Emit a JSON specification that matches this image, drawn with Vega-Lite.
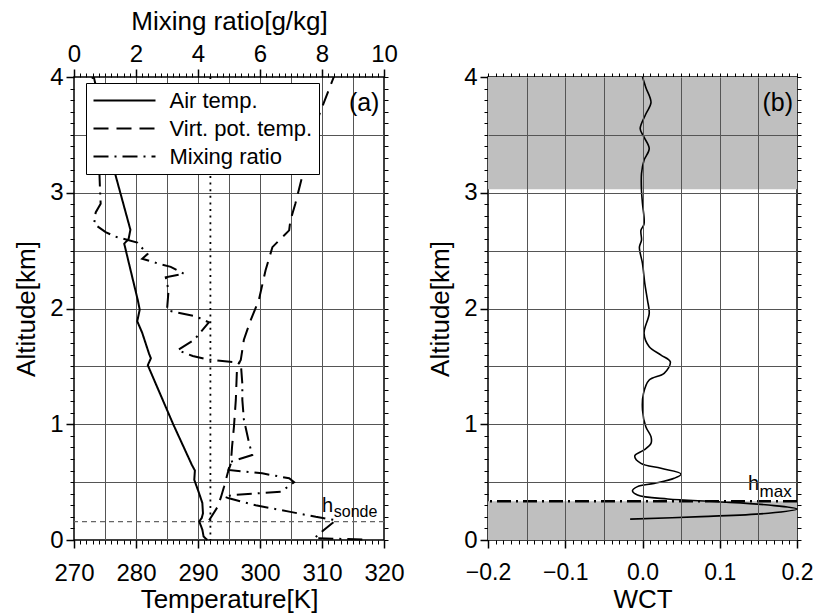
{
"$schema": "https://vega.github.io/schema/vega-lite/v6.json",
"background": "white",
"padding": {"left": 12, "top": 7, "right": 5, "bottom": 0},
"bounds": "flush",
"spacing": 104,
"config": {
  "view": {"stroke": "black", "strokeWidth": 1.5},
  "font": "Liberation Sans",
  "axis": {"labelFont": "Liberation Sans", "labelFontSize": 24, "labelColor": "black", "titleFont": "Liberation Sans", "titleFontSize": 26, "titleFontWeight": "normal", "titleColor": "black", "tickColor": "black", "domain": false, "grid": false, "gridColor": "#555555", "gridWidth": 1, "tickWidth": 1, "labelPadding": 3, "labelOverlap": false, "labelFlush": false}
},
"datasets": {
  "temp": [
    {"series": "Air temp.", "i": 0, "h": 0.0, "T": 291.5},
    {"series": "Air temp.", "i": 1, "h": 0.03, "T": 290.9},
    {"series": "Air temp.", "i": 2, "h": 0.09, "T": 290.7},
    {"series": "Air temp.", "i": 3, "h": 0.16, "T": 290.2},
    {"series": "Air temp.", "i": 4, "h": 0.19, "T": 290.6},
    {"series": "Air temp.", "i": 5, "h": 0.23, "T": 290.8},
    {"series": "Air temp.", "i": 6, "h": 0.32, "T": 290.7},
    {"series": "Air temp.", "i": 7, "h": 0.40, "T": 290.2},
    {"series": "Air temp.", "i": 8, "h": 0.52, "T": 289.4},
    {"series": "Air temp.", "i": 9, "h": 0.60, "T": 289.5},
    {"series": "Air temp.", "i": 10, "h": 0.65, "T": 289.0},
    {"series": "Air temp.", "i": 11, "h": 1.00, "T": 286.0},
    {"series": "Air temp.", "i": 12, "h": 1.51, "T": 281.9},
    {"series": "Air temp.", "i": 13, "h": 1.57, "T": 282.4},
    {"series": "Air temp.", "i": 14, "h": 1.61, "T": 282.1},
    {"series": "Air temp.", "i": 15, "h": 1.79, "T": 281.0},
    {"series": "Air temp.", "i": 16, "h": 1.89, "T": 280.2},
    {"series": "Air temp.", "i": 17, "h": 1.99, "T": 280.6},
    {"series": "Air temp.", "i": 18, "h": 2.07, "T": 280.3},
    {"series": "Air temp.", "i": 19, "h": 2.27, "T": 279.4},
    {"series": "Air temp.", "i": 20, "h": 2.56, "T": 278.1},
    {"series": "Air temp.", "i": 21, "h": 2.60, "T": 278.8},
    {"series": "Air temp.", "i": 22, "h": 2.68, "T": 279.1},
    {"series": "Air temp.", "i": 23, "h": 3.19, "T": 276.5},
    {"series": "Air temp.", "i": 24, "h": 4.0, "T": 273.2},
    {"series": "Virt. pot. temp.", "i": 0, "h": 0.17, "T": 291.8},
    {"series": "Virt. pot. temp.", "i": 1, "h": 0.29, "T": 293.2},
    {"series": "Virt. pot. temp.", "i": 2, "h": 0.37, "T": 293.7},
    {"series": "Virt. pot. temp.", "i": 3, "h": 0.46, "T": 294.2},
    {"series": "Virt. pot. temp.", "i": 4, "h": 0.58, "T": 294.8},
    {"series": "Virt. pot. temp.", "i": 5, "h": 0.66, "T": 295.3},
    {"series": "Virt. pot. temp.", "i": 6, "h": 0.81, "T": 295.5},
    {"series": "Virt. pot. temp.", "i": 7, "h": 0.98, "T": 295.8},
    {"series": "Virt. pot. temp.", "i": 8, "h": 1.21, "T": 296.1},
    {"series": "Virt. pot. temp.", "i": 9, "h": 1.50, "T": 296.3},
    {"series": "Virt. pot. temp.", "i": 10, "h": 1.555, "T": 296.9},
    {"series": "Virt. pot. temp.", "i": 11, "h": 1.73, "T": 297.4},
    {"series": "Virt. pot. temp.", "i": 12, "h": 1.90, "T": 298.5},
    {"series": "Virt. pot. temp.", "i": 13, "h": 2.07, "T": 299.8},
    {"series": "Virt. pot. temp.", "i": 14, "h": 2.33, "T": 300.9},
    {"series": "Virt. pot. temp.", "i": 15, "h": 2.53, "T": 302.0},
    {"series": "Virt. pot. temp.", "i": 16, "h": 2.59, "T": 303.1},
    {"series": "Virt. pot. temp.", "i": 17, "h": 2.675, "T": 304.7},
    {"series": "Virt. pot. temp.", "i": 18, "h": 2.76, "T": 304.9},
    {"series": "Virt. pot. temp.", "i": 19, "h": 2.905, "T": 305.7},
    {"series": "Virt. pot. temp.", "i": 20, "h": 3.14, "T": 306.8},
    {"series": "Virt. pot. temp.", "i": 21, "h": 3.34, "T": 307.6},
    {"series": "Virt. pot. temp.", "i": 22, "h": 3.54, "T": 308.7},
    {"series": "Virt. pot. temp.", "i": 23, "h": 3.71, "T": 309.8},
    {"series": "Virt. pot. temp.", "i": 24, "h": 4.0, "T": 311.9}
  ],
  "mix": [
    {"series": "Mixing ratio", "i": 0, "h": 0.005, "m": 9.3},
    {"series": "Mixing ratio", "i": 1, "h": 0.015, "m": 7.75},
    {"series": "Mixing ratio", "i": 2, "h": 0.086, "m": 8.06},
    {"series": "Mixing ratio", "i": 3, "h": 0.17, "m": 8.45},
    {"series": "Mixing ratio", "i": 4, "h": 0.20, "m": 7.8},
    {"series": "Mixing ratio", "i": 5, "h": 0.245, "m": 6.94},
    {"series": "Mixing ratio", "i": 6, "h": 0.30, "m": 5.86},
    {"series": "Mixing ratio", "i": 7, "h": 0.36, "m": 5.0},
    {"series": "Mixing ratio", "i": 8, "h": 0.374, "m": 4.85},
    {"series": "Mixing ratio", "i": 9, "h": 0.39, "m": 5.17},
    {"series": "Mixing ratio", "i": 10, "h": 0.417, "m": 6.68},
    {"series": "Mixing ratio", "i": 11, "h": 0.50, "m": 7.1},
    {"series": "Mixing ratio", "i": 12, "h": 0.533, "m": 6.94},
    {"series": "Mixing ratio", "i": 13, "h": 0.576, "m": 6.07},
    {"series": "Mixing ratio", "i": 14, "h": 0.605, "m": 4.98},
    {"series": "Mixing ratio", "i": 15, "h": 0.676, "m": 5.06},
    {"series": "Mixing ratio", "i": 16, "h": 0.734, "m": 5.75},
    {"series": "Mixing ratio", "i": 17, "h": 0.835, "m": 5.65},
    {"series": "Mixing ratio", "i": 18, "h": 1.04, "m": 5.48},
    {"series": "Mixing ratio", "i": 19, "h": 1.21, "m": 5.43},
    {"series": "Mixing ratio", "i": 20, "h": 1.35, "m": 5.43},
    {"series": "Mixing ratio", "i": 21, "h": 1.53, "m": 5.38},
    {"series": "Mixing ratio", "i": 22, "h": 1.56, "m": 4.3},
    {"series": "Mixing ratio", "i": 23, "h": 1.59, "m": 3.83},
    {"series": "Mixing ratio", "i": 24, "h": 1.64, "m": 3.34},
    {"series": "Mixing ratio", "i": 25, "h": 1.73, "m": 3.88},
    {"series": "Mixing ratio", "i": 26, "h": 1.88, "m": 4.35},
    {"series": "Mixing ratio", "i": 27, "h": 1.93, "m": 3.95},
    {"series": "Mixing ratio", "i": 28, "h": 1.985, "m": 3.0},
    {"series": "Mixing ratio", "i": 29, "h": 2.157, "m": 3.05},
    {"series": "Mixing ratio", "i": 30, "h": 2.27, "m": 2.96},
    {"series": "Mixing ratio", "i": 31, "h": 2.30, "m": 3.55},
    {"series": "Mixing ratio", "i": 32, "h": 2.36, "m": 3.12},
    {"series": "Mixing ratio", "i": 33, "h": 2.39, "m": 2.69},
    {"series": "Mixing ratio", "i": 34, "h": 2.43, "m": 2.2},
    {"series": "Mixing ratio", "i": 35, "h": 2.47, "m": 2.37},
    {"series": "Mixing ratio", "i": 36, "h": 2.57, "m": 2.04},
    {"series": "Mixing ratio", "i": 37, "h": 2.62, "m": 1.34},
    {"series": "Mixing ratio", "i": 38, "h": 2.66, "m": 1.02},
    {"series": "Mixing ratio", "i": 39, "h": 2.73, "m": 0.65},
    {"series": "Mixing ratio", "i": 40, "h": 2.83, "m": 0.70},
    {"series": "Mixing ratio", "i": 41, "h": 2.905, "m": 0.86},
    {"series": "Mixing ratio", "i": 42, "h": 3.02, "m": 0.84},
    {"series": "Mixing ratio", "i": 43, "h": 3.17, "m": 0.82},
    {"series": "Mixing ratio", "i": 44, "h": 3.6, "m": 0.75},
    {"series": "Mixing ratio", "i": 45, "h": 4.0, "m": 0.6}
  ],
  "wct": [
    {"i": 0, "h": 0.18, "w": -0.016},
    {"i": 1, "h": 0.202, "w": 0.076},
    {"i": 2, "h": 0.231, "w": 0.163},
    {"i": 3, "h": 0.268, "w": 0.2},
    {"i": 4, "h": 0.302, "w": 0.163},
    {"i": 5, "h": 0.331, "w": 0.098},
    {"i": 6, "h": 0.354, "w": 0.0326},
    {"i": 7, "h": 0.389, "w": -0.0065},
    {"i": 8, "h": 0.426, "w": -0.013},
    {"i": 9, "h": 0.461, "w": -0.0065},
    {"i": 10, "h": 0.489, "w": 0.015},
    {"i": 11, "h": 0.533, "w": 0.041},
    {"i": 12, "h": 0.570, "w": 0.05},
    {"i": 13, "h": 0.619, "w": 0.024},
    {"i": 14, "h": 0.662, "w": -0.002},
    {"i": 15, "h": 0.726, "w": -0.010},
    {"i": 16, "h": 0.778, "w": 0.002},
    {"i": 17, "h": 0.835, "w": 0.011},
    {"i": 18, "h": 0.893, "w": 0.011},
    {"i": 19, "h": 0.979, "w": 0.0043},
    {"i": 20, "h": 1.123, "w": 0.0},
    {"i": 21, "h": 1.267, "w": 0.0013},
    {"i": 22, "h": 1.382, "w": 0.0087},
    {"i": 23, "h": 1.44, "w": 0.028},
    {"i": 24, "h": 1.54, "w": 0.036},
    {"i": 25, "h": 1.598, "w": 0.024},
    {"i": 26, "h": 1.67, "w": 0.0087},
    {"i": 27, "h": 1.785, "w": 0.002},
    {"i": 28, "h": 1.958, "w": 0.0087},
    {"i": 29, "h": 2.07, "w": 0.0065},
    {"i": 30, "h": 2.215, "w": 0.003},
    {"i": 31, "h": 2.388, "w": 0.0},
    {"i": 32, "h": 2.53, "w": -0.004},
    {"i": 33, "h": 2.59, "w": -0.0013},
    {"i": 34, "h": 2.676, "w": -0.002},
    {"i": 35, "h": 2.73, "w": 0.002},
    {"i": 36, "h": 2.905, "w": 0.0},
    {"i": 37, "h": 3.02, "w": -0.0013},
    {"i": 38, "h": 3.165, "w": -0.0013},
    {"i": 39, "h": 3.28, "w": 0.002},
    {"i": 40, "h": 3.38, "w": 0.0087},
    {"i": 41, "h": 3.48, "w": 0.002},
    {"i": 42, "h": 3.553, "w": -0.003},
    {"i": 43, "h": 3.68, "w": 0.0043},
    {"i": 44, "h": 3.78, "w": 0.011},
    {"i": 45, "h": 3.91, "w": 0.0043},
    {"i": 46, "h": 4.0, "w": 0.0}
  ],
  "bands": [
    {"y1": 0, "y2": 0.335},
    {"y1": 3.03, "y2": 4}
  ]
},
"resolve": {"scale": {"strokeDash": "independent"}, "legend": {"strokeDash": "independent"}},
"hconcat": [
  {
    "width": 310,
    "height": 463,
    "resolve": {"scale": {"x": "independent"}, "axis": {"x": "independent", "y": "independent"}},
    "layer": [
      {
        "data": {"values": [{}]},
        "mark": {"type": "rule", "strokeDash": [2, 4.6], "strokeWidth": 1.8, "color": "black"},
        "encoding": {
          "x": {"datum": 292, "type": "quantitative", "scale": {"domain": [270, 320], "nice": false, "zero": false},
                "axis": {"orient": "bottom", "values": [275, 280, 285, 290, 295, 300, 305, 310, 315], "grid": true, "labels": false, "ticks": false, "title": null}}
        }
      },
      {
        "data": {"values": [{}]},
        "mark": {"type": "rule", "strokeDash": [5, 4], "strokeWidth": 1.2, "color": "#666666"},
        "encoding": {
          "y": {"datum": 0.158, "type": "quantitative", "scale": {"domain": [0, 4], "nice": false, "zero": false},
                "axis": {"orient": "left", "values": [0.5, 1, 1.5, 2, 2.5, 3, 3.5], "grid": true, "labels": false, "ticks": false, "title": null}}
        }
      },
      {
        "data": {"name": "temp"},
        "mark": {"type": "line", "strokeWidth": 2, "color": "black"},
        "encoding": {
          "x": {"field": "T", "type": "quantitative", "scale": {"domain": [270, 320], "nice": false, "zero": false},
                "axis": {"orient": "bottom", "values": [270, 280, 290, 300, 310, 320], "title": "Temperature[K]", "tickSize": 8, "tickWidth": 1.5, "labelPadding": 13, "titlePadding": 1}},
          "y": {"field": "h", "type": "quantitative", "scale": {"domain": [0, 4], "nice": false, "zero": false},
                "axis": {"orient": "left", "values": [0, 1, 2, 3, 4], "title": "Altitude[km]", "tickSize": 8, "tickWidth": 1.5, "labelPadding": 3, "titlePadding": 10}},
          "strokeDash": {"field": "series", "type": "nominal",
                "scale": {"domain": ["Air temp.", "Virt. pot. temp.", "Mixing ratio"], "range": [[1, 0], [15, 8], [15, 6, 2, 6]]},
                "legend": {"orient": "none", "legendX": 12, "legendY": 6, "title": null, "symbolType": "M-1,0H5.2", "symbolSize": 400, "symbolStrokeWidth": 2, "symbolStrokeColor": "black", "labelFont": "Liberation Sans", "labelFontSize": 22, "labelColor": "black", "labelOffset": 55, "labelLimit": 0, "fillColor": "white", "strokeColor": "black", "padding": 6.5, "rowPadding": 6}},
          "order": {"field": "i", "type": "quantitative"}
        }
      },
      {
        "data": {"name": "mix"},
        "mark": {"type": "line", "strokeWidth": 2, "color": "black"},
        "encoding": {
          "x": {"field": "m", "type": "quantitative", "scale": {"domain": [0, 10], "nice": false, "zero": false},
                "axis": {"orient": "top", "values": [0, 2, 4, 6, 8, 10], "title": "Mixing ratio[g/kg]", "tickSize": 8, "tickWidth": 1.5, "labelPadding": 3, "titlePadding": 8}},
          "y": {"field": "h", "type": "quantitative", "scale": {"domain": [0, 4], "nice": false, "zero": false},
                "axis": {"orient": "right", "values": [0, 0.1, 0.2, 0.3, 0.4, 0.5, 0.6, 0.7, 0.8, 0.9, 1, 1.1, 1.2, 1.3, 1.4, 1.5, 1.6, 1.7, 1.8, 1.9, 2, 2.1, 2.2, 2.3, 2.4, 2.5, 2.6, 2.7, 2.8, 2.9, 3, 3.1, 3.2, 3.3, 3.4, 3.5, 3.6, 3.7, 3.8, 3.9, 4], "labels": false, "tickSize": 4, "title": null}},
          "strokeDash": {"field": "series", "type": "nominal",
                "scale": {"domain": ["Air temp.", "Virt. pot. temp.", "Mixing ratio"], "range": [[1, 0], [15, 8], [15, 6, 2, 6]]},
                "legend": {"orient": "none", "legendX": 12, "legendY": 6, "title": null, "symbolType": "M-1,0H5.2", "symbolSize": 400, "symbolStrokeWidth": 2, "symbolStrokeColor": "black", "labelFont": "Liberation Sans", "labelFontSize": 22, "labelColor": "black", "labelOffset": 55, "labelLimit": 0, "fillColor": "white", "strokeColor": "black", "padding": 6.5, "rowPadding": 6}},
          "order": {"field": "i", "type": "quantitative"}
        }
      },
      {
        "data": {"name": "temp"},
        "mark": {"type": "point", "opacity": 0},
        "encoding": {
          "x": {"field": "T", "type": "quantitative", "scale": {"domain": [270, 320], "nice": false, "zero": false},
                "axis": {"orient": "bottom", "values": [270, 271, 272, 273, 274, 275, 276, 277, 278, 279, 280, 281, 282, 283, 284, 285, 286, 287, 288, 289, 290, 291, 292, 293, 294, 295, 296, 297, 298, 299, 300, 301, 302, 303, 304, 305, 306, 307, 308, 309, 310, 311, 312, 313, 314, 315, 316, 317, 318, 319, 320], "labels": false, "tickSize": 4, "title": null}},
          "y": {"field": "h", "type": "quantitative", "scale": {"domain": [0, 4], "nice": false, "zero": false},
                "axis": {"orient": "left", "values": [0, 0.1, 0.2, 0.3, 0.4, 0.5, 0.6, 0.7, 0.8, 0.9, 1, 1.1, 1.2, 1.3, 1.4, 1.5, 1.6, 1.7, 1.8, 1.9, 2, 2.1, 2.2, 2.3, 2.4, 2.5, 2.6, 2.7, 2.8, 2.9, 3, 3.1, 3.2, 3.3, 3.4, 3.5, 3.6, 3.7, 3.8, 3.9, 4], "labels": false, "tickSize": 4, "title": null}}
        }
      },
      {
        "data": {"name": "mix"},
        "mark": {"type": "point", "opacity": 0},
        "encoding": {
          "x": {"field": "m", "type": "quantitative", "scale": {"domain": [0, 10], "nice": false, "zero": false},
                "axis": {"orient": "top", "values": [0, 0.2, 0.4, 0.6, 0.8, 1, 1.2, 1.4, 1.6, 1.8, 2, 2.2, 2.4, 2.6, 2.8, 3, 3.2, 3.4, 3.6, 3.8, 4, 4.2, 4.4, 4.6, 4.8, 5, 5.2, 5.4, 5.6, 5.8, 6, 6.2, 6.4, 6.6, 6.8, 7, 7.2, 7.4, 7.6, 7.8, 8, 8.2, 8.4, 8.6, 8.8, 9, 9.2, 9.4, 9.6, 9.8, 10], "labels": false, "tickSize": 4, "title": null}},
          "y": {"field": "h", "type": "quantitative", "scale": {"domain": [0, 4], "nice": false, "zero": false}, "axis": null}
        }
      },
      {
        "data": {"values": [{}]},
        "mark": {"type": "text", "text": "h", "fontSize": 20, "align": "left", "baseline": "alphabetic", "color": "black"},
        "encoding": {
          "x": {"datum": 310.0, "type": "quantitative", "scale": {"domain": [270, 320], "nice": false, "zero": false}, "axis": null},
          "y": {"datum": 0.242, "type": "quantitative", "scale": {"domain": [0, 4], "nice": false, "zero": false}, "axis": null}
        }
      },
      {
        "data": {"values": [{}]},
        "mark": {"type": "text", "text": "sonde", "fontSize": 16, "align": "left", "baseline": "alphabetic", "color": "black"},
        "encoding": {
          "x": {"datum": 311.9, "type": "quantitative", "scale": {"domain": [270, 320], "nice": false, "zero": false}, "axis": null},
          "y": {"datum": 0.2, "type": "quantitative", "scale": {"domain": [0, 4], "nice": false, "zero": false}, "axis": null}
        }
      },
      {
        "data": {"values": [{}]},
        "mark": {"type": "text", "text": "(a)", "fontSize": 25, "align": "center", "baseline": "alphabetic", "color": "black"},
        "encoding": {
          "x": {"datum": 316.8, "type": "quantitative", "scale": {"domain": [270, 320], "nice": false, "zero": false}, "axis": null},
          "y": {"datum": 3.706, "type": "quantitative", "scale": {"domain": [0, 4], "nice": false, "zero": false}, "axis": null}
        }
      }
    ]
  },
  {
    "width": 309,
    "height": 463,
    "resolve": {"axis": {"x": "independent", "y": "independent"}},
    "layer": [
      {
        "data": {"name": "bands"},
        "mark": {"type": "rect", "color": "#bfbfbf"},
        "encoding": {
          "x": {"datum": -0.2, "type": "quantitative", "scale": {"domain": [-0.2, 0.2], "nice": false, "zero": false},
                "axis": {"orient": "bottom", "values": [-0.15, -0.1, -0.05, 0, 0.05, 0.1, 0.15], "grid": true, "labels": false, "ticks": false, "title": null, "zindex": 1}},
          "x2": {"datum": 0.2},
          "y": {"field": "y1", "type": "quantitative", "scale": {"domain": [0, 4], "nice": false, "zero": false},
                "axis": {"orient": "left", "values": [0.5, 1, 1.5, 2, 2.5, 3, 3.5], "grid": true, "labels": false, "ticks": false, "title": null, "zindex": 1}},
          "y2": {"field": "y2"}
        }
      },
      {
        "data": {"name": "wct"},
        "mark": {"type": "line", "strokeWidth": 1.6, "color": "black", "interpolate": "catmull-rom"},
        "encoding": {
          "x": {"field": "w", "type": "quantitative", "scale": {"domain": [-0.2, 0.2], "nice": false, "zero": false},
                "axis": {"orient": "bottom", "values": [-0.2, -0.1, 0, 0.1, 0.2], "format": ".1f", "title": "WCT", "tickSize": 8, "tickWidth": 1.5, "labelFontSize": 23, "labelPadding": 13.5, "titlePadding": 1.5}},
          "y": {"field": "h", "type": "quantitative", "scale": {"domain": [0, 4], "nice": false, "zero": false},
                "axis": {"orient": "left", "values": [0, 1, 2, 3, 4], "title": "Altitude[km]", "tickSize": 8, "tickWidth": 1.5, "labelPadding": 3, "titlePadding": 10}},
          "order": {"field": "i", "type": "quantitative"}
        }
      },
      {
        "data": {"values": [{}]},
        "mark": {"type": "rule", "strokeDash": [14, 5, 2, 5], "strokeWidth": 2.4, "color": "black"},
        "encoding": {
          "y": {"datum": 0.335, "type": "quantitative", "scale": {"domain": [0, 4], "nice": false, "zero": false}, "axis": null}
        }
      },
      {
        "data": {"name": "wct"},
        "mark": {"type": "point", "opacity": 0},
        "encoding": {
          "x": {"field": "w", "type": "quantitative", "scale": {"domain": [-0.2, 0.2], "nice": false, "zero": false},
                "axis": {"orient": "bottom", "values": [-0.2, -0.19, -0.18, -0.17, -0.16, -0.15, -0.14, -0.13, -0.12, -0.11, -0.1, -0.09, -0.08, -0.07, -0.06, -0.05, -0.04, -0.03, -0.02, -0.01, 0, 0.01, 0.02, 0.03, 0.04, 0.05, 0.06, 0.07, 0.08, 0.09, 0.1, 0.11, 0.12, 0.13, 0.14, 0.15, 0.16, 0.17, 0.18, 0.19, 0.2], "labels": false, "tickSize": 4, "title": null}},
          "y": {"field": "h", "type": "quantitative", "scale": {"domain": [0, 4], "nice": false, "zero": false},
                "axis": {"orient": "left", "values": [0, 0.1, 0.2, 0.3, 0.4, 0.5, 0.6, 0.7, 0.8, 0.9, 1, 1.1, 1.2, 1.3, 1.4, 1.5, 1.6, 1.7, 1.8, 1.9, 2, 2.1, 2.2, 2.3, 2.4, 2.5, 2.6, 2.7, 2.8, 2.9, 3, 3.1, 3.2, 3.3, 3.4, 3.5, 3.6, 3.7, 3.8, 3.9, 4], "labels": false, "tickSize": 4, "title": null}}
        }
      },
      {
        "data": {"name": "wct"},
        "mark": {"type": "point", "opacity": 0},
        "encoding": {
          "x": {"field": "w", "type": "quantitative", "scale": {"domain": [-0.2, 0.2], "nice": false, "zero": false},
                "axis": {"orient": "top", "values": [-0.2, -0.19, -0.18, -0.17, -0.16, -0.15, -0.14, -0.13, -0.12, -0.11, -0.1, -0.09, -0.08, -0.07, -0.06, -0.05, -0.04, -0.03, -0.02, -0.01, 0, 0.01, 0.02, 0.03, 0.04, 0.05, 0.06, 0.07, 0.08, 0.09, 0.1, 0.11, 0.12, 0.13, 0.14, 0.15, 0.16, 0.17, 0.18, 0.19, 0.2], "labels": false, "tickSize": 4, "title": null}},
          "y": {"field": "h", "type": "quantitative", "scale": {"domain": [0, 4], "nice": false, "zero": false},
                "axis": {"orient": "right", "values": [0, 0.1, 0.2, 0.3, 0.4, 0.5, 0.6, 0.7, 0.8, 0.9, 1, 1.1, 1.2, 1.3, 1.4, 1.5, 1.6, 1.7, 1.8, 1.9, 2, 2.1, 2.2, 2.3, 2.4, 2.5, 2.6, 2.7, 2.8, 2.9, 3, 3.1, 3.2, 3.3, 3.4, 3.5, 3.6, 3.7, 3.8, 3.9, 4], "labels": false, "tickSize": 4, "title": null}}
        }
      },
      {
        "data": {"values": [{}]},
        "mark": {"type": "text", "text": "h", "fontSize": 20, "align": "left", "baseline": "alphabetic", "color": "black"},
        "encoding": {
          "x": {"datum": 0.1366, "type": "quantitative", "scale": {"domain": [-0.2, 0.2], "nice": false, "zero": false}, "axis": null},
          "y": {"datum": 0.432, "type": "quantitative", "scale": {"domain": [0, 4], "nice": false, "zero": false}, "axis": null}
        }
      },
      {
        "data": {"values": [{}]},
        "mark": {"type": "text", "text": "max", "fontSize": 17, "align": "left", "baseline": "alphabetic", "color": "black"},
        "encoding": {
          "x": {"datum": 0.1515, "type": "quantitative", "scale": {"domain": [-0.2, 0.2], "nice": false, "zero": false}, "axis": null},
          "y": {"datum": 0.371, "type": "quantitative", "scale": {"domain": [0, 4], "nice": false, "zero": false}, "axis": null}
        }
      },
      {
        "data": {"values": [{}]},
        "mark": {"type": "text", "text": "(b)", "fontSize": 25, "align": "center", "baseline": "alphabetic", "color": "black"},
        "encoding": {
          "x": {"datum": 0.175, "type": "quantitative", "scale": {"domain": [-0.2, 0.2], "nice": false, "zero": false}, "axis": null},
          "y": {"datum": 3.706, "type": "quantitative", "scale": {"domain": [0, 4], "nice": false, "zero": false}, "axis": null}
        }
      }
    ]
  }
]
}
